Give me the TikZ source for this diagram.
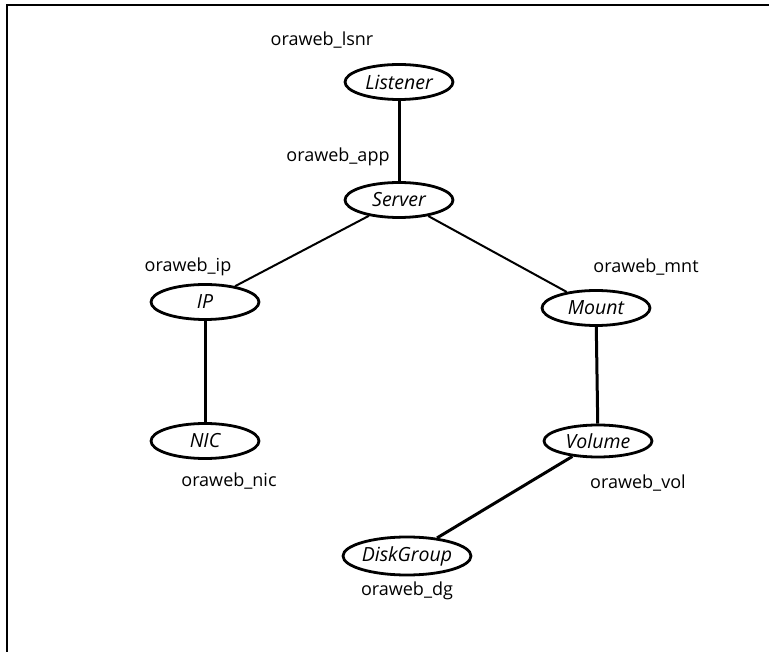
\documentclass[tikz,border=0pt]{standalone}
\usepackage{fontspec}
\setmainfont{Open Sans}
\usetikzlibrary{shapes.geometric}

\begin{document}
\begin{tikzpicture}[x=1pt,y=-1pt,
		res/.style={ellipse,draw,line width=2.8pt,inner sep=0pt,minimum width=108pt,minimum height=35pt,font=\itshape\fontsize{19.5}{22}\selectfont},
		lbl/.style={inner sep=0pt,font=\fontsize{18}{21}\selectfont},
		link/.style={line width=3pt},
		thinlink/.style={line width=2pt}]
		\useasboundingbox (0,0) rectangle (769,652);
		\draw [line width=2.5pt] (7,652) -- (7,5) -- (769,5);
		% resources
		\node [res] (listener) at (399,82) {Listener};
		\node [res] (server) at (399,200) {Server};
		\node [res] (ip) at (205,302) {IP};
		\node [res] (mount) at (596,308) {Mount};
		\node [res] (nic) at (205,441) {NIC};
		\node [res,minimum height=32pt] (volume) at (598,441) {Volume};
		\node [res,minimum width=128pt,minimum height=38pt] (dg) at (407,556) {DiskGroup};
		% resource names
		\node [lbl] (lsnrname) at (322,40) {oraweb\_lsnr};
		\node [lbl] (appname) at (338,157) {oraweb\_app};
		\node [lbl] (ipname) at (188,267) {oraweb\_ip};
		\node [lbl] (mntname) at (646,267) {oraweb\_mnt};
		\node [lbl] (nicname) at (229,481) {oraweb\_nic};
		\node [lbl] (volname) at (638,483) {oraweb\_vol};
		\node [lbl] (dgname) at (407,591) {oraweb\_dg};
		% dependencies
		\draw [link] (listener) -- (server);
		\draw [thinlink] (server) -- (ip);
		\draw [thinlink] (server) -- (mount);
		\draw [link] (ip) -- (nic);
		\draw [link] (mount) -- (volume);
		\draw [link] (volume) -- (dg);
	\end{tikzpicture}
\end{document}
